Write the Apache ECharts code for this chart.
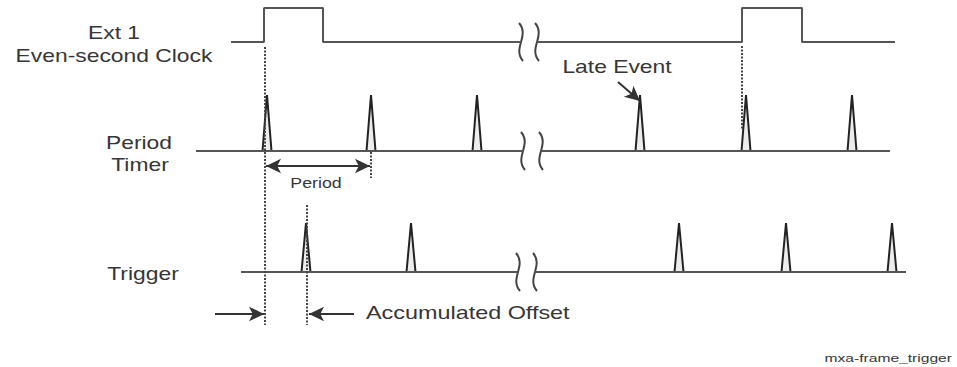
<!DOCTYPE html>
<html>
<head>
<meta charset="utf-8">
<script src="https://cdn.jsdelivr.net/npm/echarts@6/dist/echarts.min.js"></script>
<style>
  html, body { margin: 0; padding: 0; background: #fff; }
  #chart { width: 957px; height: 367px; }
</style>
</head>
<body>
<div id="chart"></div>
<script>
// time positions of the events (x axis units)
var clockSpan = [231, 895];
var clockPulses = [[264, 323], [742, 802]];
var clockBreak = [521, 537];

var timerSpan = [196, 890];
var timerPulses = [267, 371, 477, 640, 746, 852];
var timerBreak = [523, 541];

var triggerSpan = [241, 906];
var triggerPulses = [306, 411, 679, 786, 892];
var triggerBreak = [518, 535];

// signal levels (y axis units, top = 0)
var clockLow = 42, clockHigh = 8;
var timerBase = 151, timerPeak = 95;
var triggerBase = 272, triggerPeak = 223;

var PULSE_HALF = 4.5;
var FONT = '"Liberation Sans", Arial, sans-serif';
var INK = '#363636';

// square wave, broken at the squiggle
function squareWave(span, pulses, brk, low, high) {
	var pts = [[span[0], low]];
	var broken = false;
	for (var i = 0; i < pulses.length; i++) {
		var p = pulses[i];
		if (!broken && p[0] > brk[0]) {
			pts.push([brk[0], low], [brk[0], '-'], [brk[1], low]);
			broken = true;
		}
		pts.push([p[0], low], [p[0], high], [p[1], high], [p[1], low]);
	}
	if (!broken) pts.push([brk[0], low], [brk[0], '-'], [brk[1], low]);
	pts.push([span[1], low]);
	return pts;
}

// flat baseline with a gap at the squiggle
function baseline(span, brk, y) {
	return [[span[0], y], [brk[0], y], [brk[0], '-'], [brk[1], y], [span[1], y]];
}

function spikes(list, base, peak) {
	var out = [];
	for (var i = 0; i < list.length; i++) out.push([list[i], base, peak]);
	return out;
}

function renderSpike(params, api) {
	var t = api.value(0), base = api.value(1), peak = api.value(2);
	var a = api.coord([t - PULSE_HALF, base]);
	var b = api.coord([t, peak]);
	var c = api.coord([t + PULSE_HALF, base]);
	return {
		type: 'polyline',
		shape: { points: [a, b, c] },
		style: { stroke: '#222', lineWidth: 2, fill: 'rgba(150,150,150,0.18)' }
	};
}

function renderSquiggle(params, api) {
	var p = api.coord([api.value(0), api.value(1)]);
	var h = 19;
	return {
		type: 'bezierCurve',
		shape: {
			x1: p[0] - 2, y1: p[1] - h,
			cpx1: p[0] + 9, cpy1: p[1] - h / 3,
			cpx2: p[0] - 9, cpy2: p[1] + h / 3,
			x2: p[0] + 2, y2: p[1] + h
		},
		style: { stroke: '#444', lineWidth: 2, fill: null }
	};
}

var squiggles = [
	[clockBreak[0], clockLow], [clockBreak[1], clockLow],
	[timerBreak[0], timerBase], [timerBreak[1], timerBase],
	[triggerBreak[0], triggerBase], [triggerBreak[1], triggerBase]
];

function seg(x1, y1, x2, y2, s1, s2) {
	return [{ coord: [x1, y1], symbol: s1 || 'none' }, { coord: [x2, y2], symbol: s2 || 'none' }];
}

var lineStyleGray = { color: '#555', width: 2 };

function txt(text, x, y, size, align, scale) {
	return {
		type: 'text', x: x, y: y, scaleX: scale || 1.27, silent: true,
		style: {
			text: text, fill: INK, font: size + 'px ' + FONT,
			textAlign: align || 'center', textVerticalAlign: 'middle'
		}
	};
}

var chartObj = echarts.init(document.getElementById('chart'), null, { renderer: 'svg' });
var option = {
	backgroundColor: '#ffffff',
	animation: false,
	grid: { left: 0, right: 0, top: 0, bottom: 0 },
	xAxis: { type: 'value', min: 0, max: 957, show: false },
	yAxis: { type: 'value', min: 0, max: 367, inverse: true, show: false },
	series: [
		{
			name: 'Ext 1', type: 'line', symbol: 'none', connectNulls: false,
			lineStyle: lineStyleGray,
			data: squareWave(clockSpan, clockPulses, clockBreak, clockLow, clockHigh)
		},
		{
			name: 'Period Timer', type: 'line', symbol: 'none', connectNulls: false,
			lineStyle: lineStyleGray,
			data: baseline(timerSpan, timerBreak, timerBase)
		},
		{
			name: 'Trigger', type: 'line', symbol: 'none', connectNulls: false,
			lineStyle: lineStyleGray,
			data: baseline(triggerSpan, triggerBreak, triggerBase)
		},
		{
			type: 'custom', renderItem: renderSpike, silent: true,
			data: spikes(timerPulses, timerBase, timerPeak)
		},
		{
			type: 'custom', renderItem: renderSpike, silent: true,
			data: spikes(triggerPulses, triggerBase, triggerPeak)
		},
		{
			// dotted guide lines
			type: 'line', data: [], silent: true,
			markLine: {
				silent: true, symbol: 'none', label: { show: false },
				lineStyle: { type: [2, 1.5], color: '#444', width: 2 },
				data: [
					seg(265, 47, 265, 325),
					seg(371, 152, 371, 178),
					seg(307, 205, 307, 325),
					seg(742, 46, 742, 130)
				]
			}
		},
		{
			type: 'custom', renderItem: renderSquiggle, silent: true,
			data: squiggles
		},
		{
			// arrows
			type: 'line', data: [], silent: true,
			markLine: {
				silent: true, symbolSize: [11, 15], label: { show: false },
				lineStyle: { type: 'solid', color: '#333', width: 2 },
				data: [
					seg(266, 166, 370, 166, 'arrow', 'arrow'),
					seg(215, 314, 264, 314, 'none', 'arrow'),
					seg(354, 314, 309, 314, 'none', 'arrow'),
					seg(618, 82, 640, 101, 'none', 'arrow')
				]
			}
		}
	],
	graphic: [
		txt('Ext 1', 114, 32, 18),
		txt('Even-second Clock', 114, 55, 18),
		txt('Period', 139, 142, 18),
		txt('Timer', 140, 164, 18),
		txt('Trigger', 143, 273, 18),
		txt('Period', 316, 183, 14),
		txt('Late Event', 617, 66, 18),
		txt('Accumulated Offset', 366, 313, 18, 'left', 1.3),
		txt('mxa-frame_trigger', 952, 358, 11, 'right', 1.42)
	]
};
chartObj.setOption(option);
</script>
</body>
</html>
